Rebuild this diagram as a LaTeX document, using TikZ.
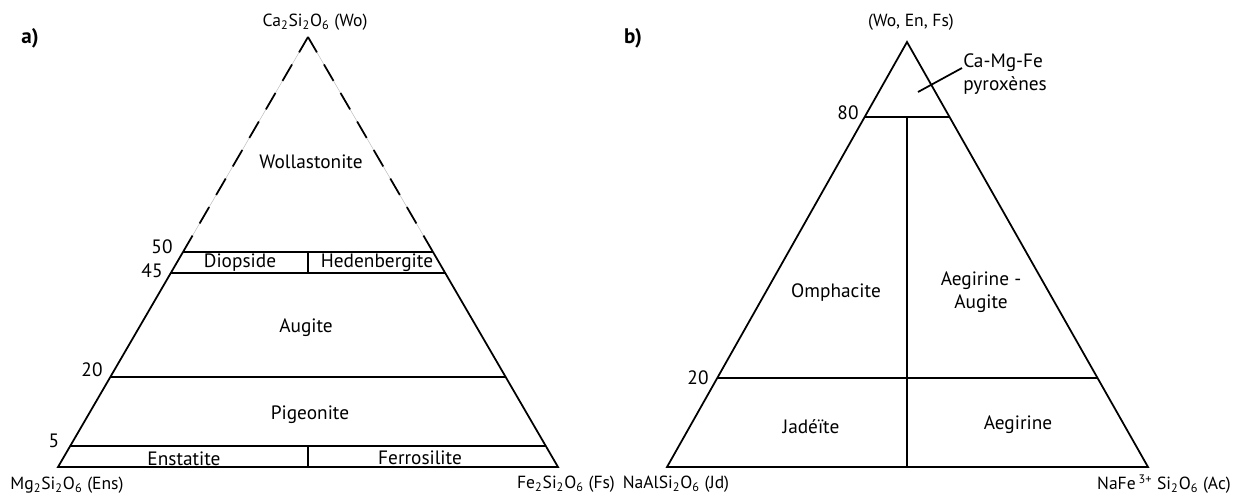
\documentclass[tikz,border=0pt]{standalone}
\usepackage{fontspec}
\setmainfont{PT Sans}
\usetikzlibrary{positioning}

\newcommand{\sbs}[1]{\textsubscript{#1}}

\tikzset{
  side/.style={black,line width=1pt},
  guide/.style={gray!50,line width=0.3pt},
  dashside/.style={black,line width=1pt,dash pattern=on 0.38cm off 0.28cm},
  lbl/.style={font=\fontsize{11}{13}\selectfont,inner sep=0pt},
  corner/.style={font=\fontsize{10}{12}\selectfont,inner sep=0pt},
  panel/.style={font=\bfseries\fontsize{12}{14}\selectfont,inner sep=0pt}
}

\begin{document}
\begin{tikzpicture}[x=0.02cm,y=-0.02cm]
\useasboundingbox (0,0) rectangle (1240,495);

% a) pyroxene quadrilateral
\coordinate (wo) at (308,37);
\coordinate (en) at (58,467);
\coordinate (fs) at (558,467);
\draw[guide] (183,252) -- (wo) -- (433,252);
\draw[dashside] (183,252) -- (wo);
\draw[dashside] (433,252) -- (wo);
\draw[side] (183,252) -- (en) -- (fs) -- (433,252);
\draw[side] (183,252) -- (433,252);
\draw[side] (170.8,273) -- (445.2,273);
\draw[side] (110.3,377) -- (505.7,377);
\draw[side] (70.4,446) -- (545.6,446);
\draw[side] (308,252) -- (308,273);
\draw[side] (308,446) -- (308,467);

\node[panel] (pa) at (30,38) {a)};
\node[corner] (cwo) at (315,22) {Ca\sbs{2}Si\sbs{2}O\sbs{6} (Wo)};
\node[corner] (cen) at (67,485) {Mg\sbs{2}Si\sbs{2}O\sbs{6} (Ens)};
\node[corner] (cfs) at (566,484) {Fe\sbs{2}Si\sbs{2}O\sbs{6} (Fs)};
\node[lbl] (n50) at (162,247) {50};
\node[lbl] (n45) at (152,271) {45};
\node[lbl] (n20) at (92,370) {20};
\node[lbl] (n5) at (54,441) {5};
\node[lbl] (wol) at (311,162) {Wollastonite};
\node[lbl] (dio) at (240,263) {Diopside};
\node[lbl] (hed) at (377,263) {Hedenbergite};
\node[lbl] (aug) at (306,328) {Augite};
\node[lbl] (pig) at (310,415) {Pigeonite};
\node[lbl] (ens) at (184,459) {Enstatite};
\node[lbl] (fer) at (420,458) {Ferrosilite};

% b) Na pyroxenes
\coordinate (top) at (907,42);
\coordinate (jd) at (667,467);
\coordinate (ac) at (1148,467);
\draw[side] (top) -- (jd) -- (ac) -- cycle;
\draw[side] (864.6,117) -- (949.4,117);
\draw[side] (717.4,378) -- (1097.6,378);
\draw[side] (907,117) -- (907,467);
\coordinate (tip) at (918,92);
\coordinate (tail) at (962,68);
\draw[side] (tip) -- (tail);

\node[panel] (pb) at (633,38) {b)};
\node[corner] (ctop) at (911,22) {(Wo, En, Fs)};
\node[corner] (cjd) at (676,484) {NaAlSi\sbs{2}O\sbs{6} (Jd)};
\node[corner] (cac) at (1164,484) {NaFe\,\textsuperscript{3+} Si\sbs{2}O\sbs{6} (Ac)};
\node[lbl] (n80) at (848,113) {80};
\node[lbl] (n20b) at (698,378) {20};
\node[lbl,align=left] (cmf) at (1005,74) {Ca-Mg-Fe\\pyroxènes};
\node[lbl] (omp) at (836,293) {Omphacite};
\node[lbl,align=center] (aea) at (981,292) {Aegirine -\\Augite};
\node[lbl] (jad) at (811,427) {Jadéïte};
\node[lbl] (aeg) at (1018,425) {Aegirine};

\end{tikzpicture}
\end{document}
